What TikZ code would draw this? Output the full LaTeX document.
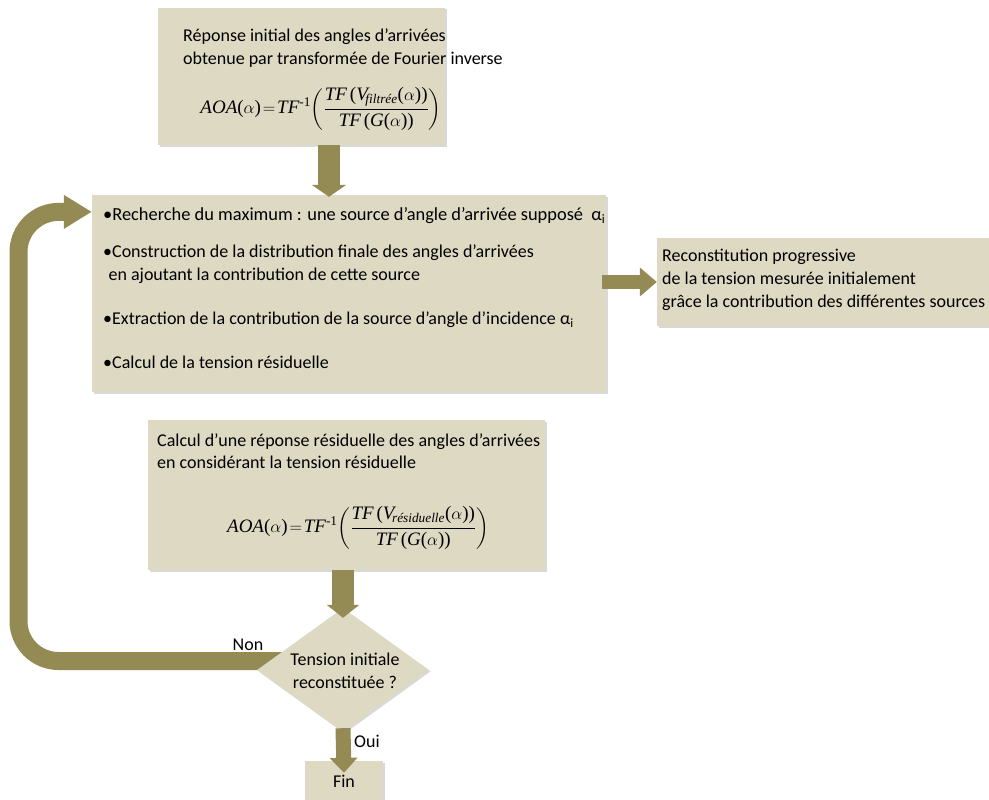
\documentclass[tikz,border=0pt]{standalone}
\usepackage{fontspec}
\usepackage{amsmath}
\setmainfont{Carlito}
\newfontfamily\serifit{Liberation Serif}
\newcommand\mi[1]{\text{\serifit\itshape #1}}
\newcommand\mr[1]{\text{\serifit #1}}
\newcommand\numstrutx{\rule[-6pt]{0pt}{1pt}}
\newcommand\denstrutx{\rule{0pt}{15pt}}
\usetikzlibrary{arrows.meta,shapes.geometric,shadows,calc,backgrounds}
\definecolor{boxfill}{HTML}{DDD9C3}
\definecolor{arrowcol}{HTML}{948A54}
\begin{document}
\begin{tikzpicture}[x=1pt,y=-1pt,
  box/.style={fill=boxfill, draw=none, inner sep=0pt,
    drop shadow={shadow xshift=1.5pt, shadow yshift=-1.5pt, fill=black!25, opacity=0.6}},
  txt/.style={font=\fontsize{18}{22.5}\selectfont, align=left, inner sep=0pt, anchor=west},
  ctxt/.style={font=\fontsize{18}{23}\selectfont, align=center, inner sep=0pt},
  formula/.style={font=\fontsize{19}{22}\selectfont, inner sep=0pt},
  blk/.style={draw=arrowcol}
]
\useasboundingbox (0,0) rectangle (989,800);

% boxes
\node[box, minimum width=287pt, minimum height=137pt] (top) at (301.5,76.5) {};
\node[box, minimum width=514pt, minimum height=197pt] (main) at (349,293.5) {};
\node[box, minimum width=338pt, minimum height=88pt] (right) at (826,282) {};
\node[box, minimum width=397pt, minimum height=150pt] (bot) at (346.5,495) {};
\node[box, diamond, aspect=1.39, minimum width=172pt, minimum height=124pt] (dec) at (343,670) {};
\node[box, minimum width=78pt, minimum height=40pt, font=\fontsize{18}{20}\selectfont] (fin) at (344,781) {Fin};

% texts
\node[txt] (toptxt) at (183,48) {Réponse initial des angles d’arrivées\\obtenue par transformée de Fourier inverse};
\node[formula] (topf) at (321,109) {$\thickmuskip=2mu\displaystyle \mi{AOA}\mr{(}\alpha\mr{)}=\mi{TF}^{\mr{-1}}\!\left(\frac{\mi{TF}\,\mr{(}\mi{V}_{\!\text{\serifit\itshape filtrée}}\mr{(}\alpha\mr{))}\numstrutx}{\denstrutx\mi{TF}\,\mr{(}\mi{G}\mr{(}\alpha\mr{))}}\right)$};

\node[txt, font=\fontsize{18.4}{22.5}\selectfont] (b1) at (103,216) {•Recherche du maximum : une source d’angle d’arrivée supposé \ α\textsubscript{i}};
\node[txt] (b2) at (103,264) {•Construction de la distribution finale des angles d’arrivées\\\hspace*{0.3em}en ajoutant la contribution de cette source};
\node[txt] (b3) at (103,320) {•Extraction de la contribution de la source d’angle d’incidence α\textsubscript{i}};
\node[txt] (b4) at (103,362) {•Calcul de la tension résiduelle};

\node[txt, font=\fontsize{18}{23}\selectfont] (righttxt) at (662,280) {Reconstitution progressive\\de la tension mesurée initialement\\grâce la contribution des différentes sources};

\node[txt] (bottxt) at (157,451) {Calcul d’une réponse résiduelle des angles d’arrivées\\en considérant la tension résiduelle};
\node[formula] (botf) at (358,528) {$\thickmuskip=2mu\displaystyle \mi{AOA}\mr{(}\alpha\mr{)}=\mi{TF}^{\mr{-1}}\!\left(\frac{\mi{TF}\,\mr{(}\mi{V}_{\!\text{\serifit\itshape résiduelle}}\mr{(}\alpha\mr{))}\numstrutx}{\denstrutx\mi{TF}\,\mr{(}\mi{G}\mr{(}\alpha\mr{))}}\right)$};

\node[ctxt] (dectxt) at (345,671) {Tension initiale\\reconstituée ?};
\node[ctxt] (non) at (248,645) {Non};
\node[ctxt] (oui) at (367,741) {Oui};

% connectors
\begin{pgfonlayer}{background}
\draw[blk, line width=18pt, rounded corners=40pt, -{Triangle[length=28pt,width=32pt,fill=arrowcol]}]
  ([xshift=30pt,yshift=9pt]dec.west) -| (18.5,212) -- ($(main.north west)+(0,17)$);
\end{pgfonlayer}
\draw[blk, line width=22pt, -{Triangle[length=12pt,width=34pt,fill=arrowcol]}]
  ([xshift=27.5pt]top.south) -- ([xshift=27.5pt,yshift=-2pt]top.south |- main.north);
\draw[blk, line width=14pt, -{Triangle[length=17pt,width=28pt,fill=arrowcol]}]
  ([xshift=-4pt]main.east |- right.west) -- (right.west);
\draw[blk, line width=22pt, -{Triangle[length=13pt,width=32pt,fill=arrowcol]}]
  (bot.south -| dec.north) -- ([yshift=-10pt]dec.north);
\draw[blk, line width=15pt, -{Triangle[length=15pt,width=27pt,fill=arrowcol]}]
  ([yshift=4pt]dec.south) -- ([yshift=-12pt]fin.north);
\end{tikzpicture}
\end{document}
